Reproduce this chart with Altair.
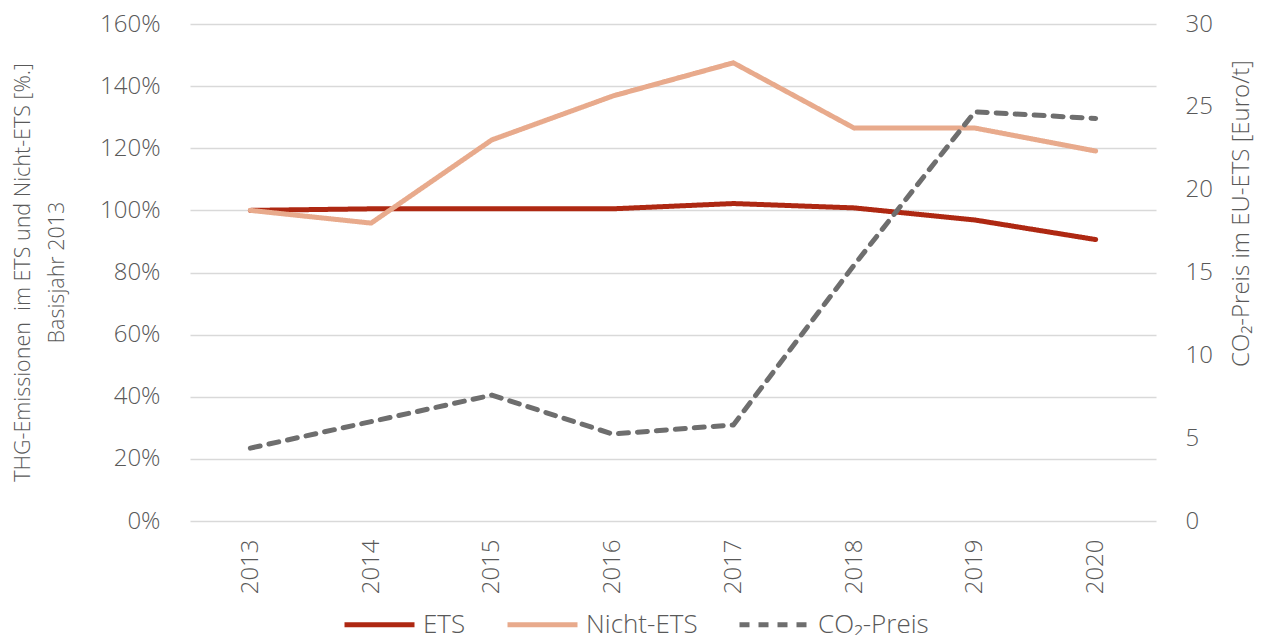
import altair as alt
import pandas as pd

years = ["2013", "2014", "2015", "2016", "2017", "2018", "2019", "2020"]
ets = [100, 100.5, 100.5, 100.5, 102.2, 100.8, 96.9, 90.6]
nicht_ets = [100, 95.9, 122.7, 136.8, 147.5, 126.5, 126.5, 119.1]
co2_preis = [4.4, 6.0, 7.6, 5.25, 5.8, 15.45, 24.7, 24.3]

series_names = ["ETS", "Nicht-ETS", "CO₂-Preis"]
series_colors = ["#AE2812", "#E8AA8C", "#6E6E6E"]
series_dash = [[1, 0], [1, 0], [10, 9]]

df_ets = pd.DataFrame({"Jahr": years, "Wert": ets, "Serie": "ETS"})
df_nicht = pd.DataFrame({"Jahr": years, "Wert": nicht_ets, "Serie": "Nicht-ETS"})
df_co2 = pd.DataFrame({"Jahr": years, "Preis": co2_preis, "Serie": "CO₂-Preis"})

FONT = "Open Sans"
TXT = "#595959"

x_enc = alt.X(
    "Jahr:O",
    sort=years,
    scale=alt.Scale(padding=0.5),
    axis=alt.Axis(
        title=None, labelAngle=-90, labelPadding=18, labelFontSize=24,
        labelColor=TXT, labelFont=FONT, domain=False, ticks=False, grid=False,
    ),
)

legend_def = dict(
    title=None, orient="none", legendX=152, legendY=563, direction="horizontal",
    symbolType="stroke", symbolSize=4900, symbolStrokeWidth=5,
    labelFontSize=26, labelColor=TXT, labelFont=FONT, labelOffset=6,
    columnPadding=31,
)

color_enc = alt.Color(
    "Serie:N",
    scale=alt.Scale(domain=series_names, range=series_colors),
    legend=alt.Legend(**legend_def),
)
dash_enc = alt.StrokeDash(
    "Serie:N",
    scale=alt.Scale(domain=series_names, range=series_dash),
    legend=alt.Legend(**legend_def),
)

y_left = alt.Y(
    "Wert:Q",
    scale=alt.Scale(domain=[0, 160]),
    axis=alt.Axis(
        orient="left",
        values=[0, 20, 40, 60, 80, 100, 120, 140, 160],
        labelExpr="datum.value + '%'",
        title=["THG-Emissionen \u00a0im ETS und Nicht-ETS [%.]", "Basisjahr 2013"],
        titleFontSize=21.5, titleColor=TXT, titleFont=FONT, titleFontWeight=300,
        titleAngle=270, titleAlign="center", titleBaseline="middle",
        titleX=-167, titleY=248, titleLineHeight=34,
        labelFontSize=24, labelColor=TXT, labelFont=FONT, labelPadding=30,
        domain=False, ticks=False, grid=True, gridColor="#D9D9D9", gridWidth=1.5,
    ),
)

line_props = dict(strokeWidth=5, strokeCap="round", strokeJoin="round")

ets_line = alt.Chart(df_ets).mark_line(**line_props).encode(
    x=x_enc, y=y_left, color=color_enc, strokeDash=dash_enc
)
nicht_line = alt.Chart(df_nicht).mark_line(**line_props).encode(
    x=x_enc, y=y_left, color=color_enc, strokeDash=dash_enc
)

co2_line = alt.Chart(df_co2).mark_line(**line_props).encode(
    x=x_enc,
    y=alt.Y(
        "Preis:Q",
        scale=alt.Scale(domain=[0, 30]),
        axis=alt.Axis(
            orient="right",
            values=[0, 5, 10, 15, 20, 25, 30],
            title="CO₂-Preis im EU-ETS [Euro/t]",
            titleFontSize=24, titleColor=TXT, titleFont=FONT, titleFontWeight=300,
            titleAngle=270, titleAlign="center", titleBaseline="middle",
            titleX=85, titleY=189,
            labelFontSize=24, labelColor=TXT, labelFont=FONT, labelPadding=29,
            domain=False, ticks=False, grid=False,
        ),
    ),
    color=color_enc,
    strokeDash=dash_enc,
)

left = alt.layer(ets_line, nicht_line)
chart = (
    alt.layer(left, co2_line)
    .resolve_scale(y="independent")
    .properties(
        width=966, height=497,
        autosize=alt.AutoSizeParams(type="none"),
        padding={"left": 182, "top": 16, "right": 102, "bottom": 114},
    )
    .configure(font=FONT)
    .configure_view(strokeWidth=0, stroke="transparent")
    .configure_axis(labelFontWeight=300, domain=False, ticks=False)
    .configure_axisX(grid=False, domain=False)
    .configure_axisY(domain=False)
    .configure_legend(labelFontWeight=300)
)

chart.save("out.html", embed_options={"renderer": "svg", "actions": False})
